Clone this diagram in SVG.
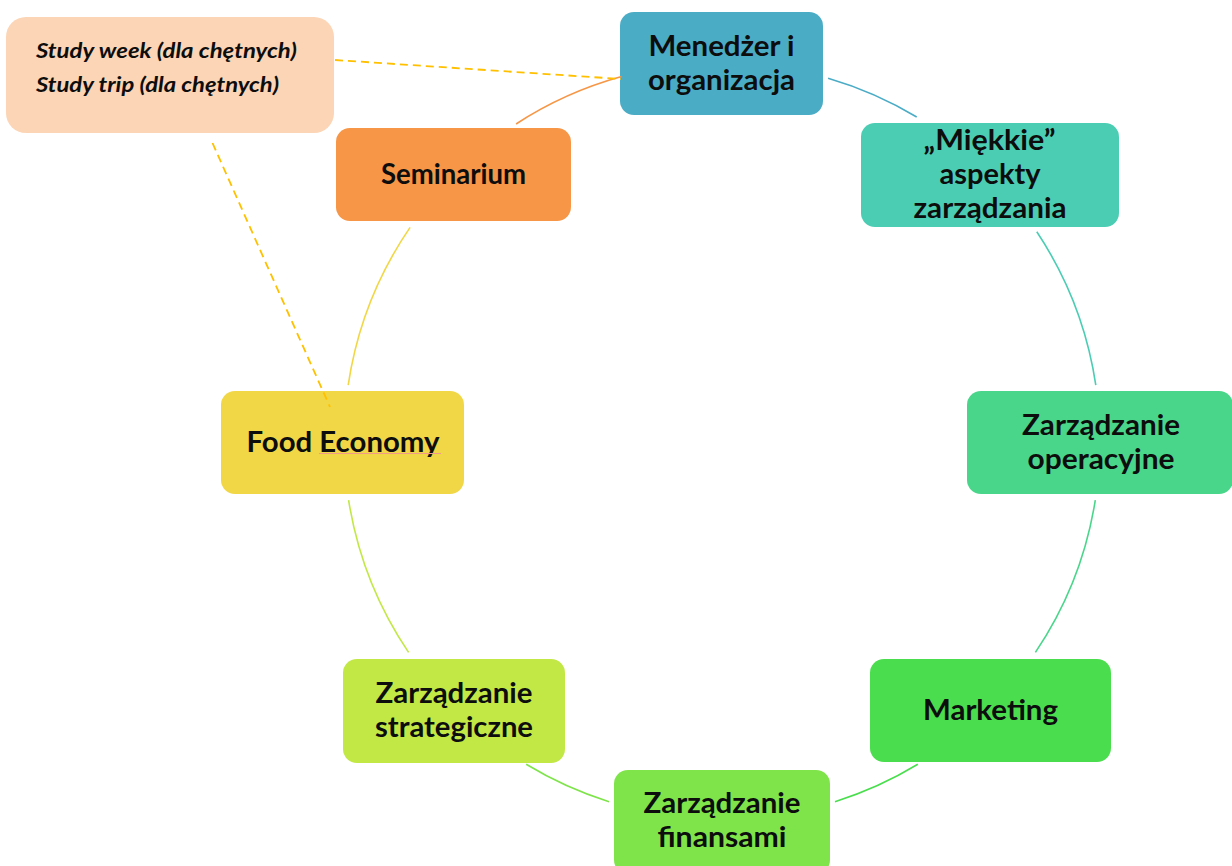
<svg xmlns="http://www.w3.org/2000/svg" width="1232" height="866" viewBox="0 0 1232 866">
<style>
.box{stroke:none}
.t{font-family:Lato,"Open Sans","Liberation Sans",sans-serif;font-weight:700;font-size:28px;fill:#0d0d0d;text-anchor:middle}
.c{font-family:Lato,"Open Sans","Liberation Sans",sans-serif;font-weight:700;font-style:italic;font-size:20px;fill:#0d0d0d}
.arc{fill:none;stroke-width:1.6}
.dash{fill:none;stroke:#ffc000;stroke-width:1.8;stroke-dasharray:8 5}
</style>
<rect width="1232" height="866" fill="#fff"/>
<g id="callout">
<rect class="box" x="6" y="17" width="328" height="116" rx="20" fill="#fbd5b5"/>
<text class="c" x="36" y="58" textLength="261" lengthAdjust="spacingAndGlyphs">Study week (dla chętnych)</text>
<text class="c" x="36" y="92" textLength="243" lengthAdjust="spacingAndGlyphs">Study trip (dla chętnych)</text>
</g>
<g id="node-menedzer">
<rect class="box" x="620" y="12" width="203" height="103" rx="14" fill="#4bacc6"/>
<text class="t" x="721.5" y="56" textLength="146" lengthAdjust="spacingAndGlyphs">Menedżer i</text>
<text class="t" x="721.5" y="90" textLength="147" lengthAdjust="spacingAndGlyphs">organizacja</text>
</g>
<g id="node-miekkie">
<rect class="box" x="861" y="123" width="258" height="104" rx="14" fill="#4bcdb4"/>
<text class="t" x="989.5" y="150" textLength="132" lengthAdjust="spacingAndGlyphs">„Miękkie”</text>
<text class="t" x="990" y="184" textLength="101" lengthAdjust="spacingAndGlyphs">aspekty</text>
<text class="t" x="990" y="218" textLength="153" lengthAdjust="spacingAndGlyphs">zarządzania</text>
</g>
<g id="node-operacyjne">
<rect class="box" x="967" y="391" width="266" height="103" rx="14" fill="#4ad68a"/>
<text class="t" x="1101" y="435" textLength="158" lengthAdjust="spacingAndGlyphs">Zarządzanie</text>
<text class="t" x="1101" y="468.5" textLength="147" lengthAdjust="spacingAndGlyphs">operacyjne</text>
</g>
<g id="node-marketing">
<rect class="box" x="870" y="659" width="241" height="103" rx="14" fill="#4ade4e"/>
<text class="t" x="990.5" y="720" textLength="135" lengthAdjust="spacingAndGlyphs">Marketing</text>
</g>
<g id="node-finanse">
<rect class="box" x="614" y="770" width="216" height="104" rx="14" fill="#7ee44a"/>
<text class="t" x="722" y="813" textLength="157" lengthAdjust="spacingAndGlyphs">Zarządzanie</text>
<text class="t" x="722" y="847" textLength="129" lengthAdjust="spacingAndGlyphs">finansami</text>
</g>
<g id="node-strategiczne">
<rect class="box" x="343" y="659" width="222" height="104" rx="14" fill="#c2e845"/>
<text class="t" x="454" y="703" textLength="157" lengthAdjust="spacingAndGlyphs">Zarządzanie</text>
<text class="t" x="454" y="736.5" textLength="158" lengthAdjust="spacingAndGlyphs">strategiczne</text>
</g>
<g id="node-food">
<rect class="box" x="221" y="391" width="243" height="103" rx="14" fill="#f1d746"/>
<text class="t" x="343" y="452" textLength="193" lengthAdjust="spacingAndGlyphs">Food Economy</text>
<path d="M319,453.5 L441,453.5" stroke="#f29a8a" stroke-width="1.2" fill="none"/>
</g>
<g id="node-seminarium">
<rect class="box" x="336" y="128" width="235" height="93" rx="14" fill="#f79646"/>
<text class="t" x="453.5" y="183.5" textLength="145" lengthAdjust="spacingAndGlyphs">Seminarium</text>
</g>
<g id="connectors">
<path class="arc" stroke="#4bacc6" d="M828.1,78.2 A378,378 0 0 1 916.7,117"/>
<path class="arc" stroke="#4bcdb4" d="M1036.8,231.8 A378,378 0 0 1 1095.8,385.1"/>
<path class="arc" stroke="#4ad68a" d="M1095.3,500.1 A378,378 0 0 1 1035.4,652.4"/>
<path class="arc" stroke="#4ade4e" d="M917.8,764.3 A378,378 0 0 1 835,801.7"/>
<path class="arc" stroke="#7ee44a" d="M609,801.7 A378,378 0 0 1 526.2,764.3"/>
<path class="arc" stroke="#c2e845" d="M408.6,652.4 A378,378 0 0 1 348.6,500.1"/>
<path class="arc" stroke="#f1d746" d="M348.2,385.1 A378,378 0 0 1 410.1,227.4"/>
<path class="arc" stroke="#f79646" d="M516.1,124 A378,378 0 0 1 621.6,76.6"/>
<path class="dash" d="M335,60 L621,79"/>
<path class="dash" d="M212.5,143 L330,407"/>
</g>
</svg>
